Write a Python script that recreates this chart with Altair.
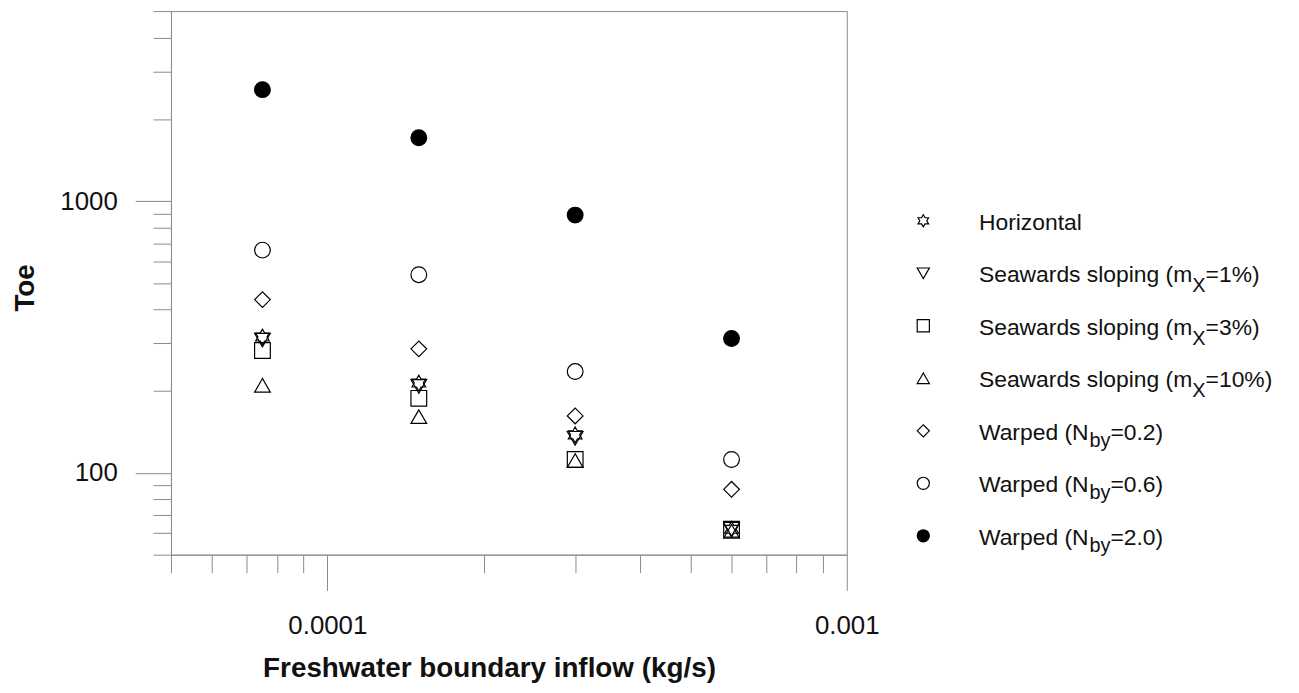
import altair as alt
import pandas as pd

FONT = "Liberation Sans"

# ---------------- data ----------------
inflow = [7.5e-5, 1.5e-4, 3.0e-4, 6.0e-4]

series = [
    "Horizontal",
    "Seawards sloping (mX=1%)",
    "Seawards sloping (mX=3%)",
    "Seawards sloping (mX=10%)",
    "Warped (Nby=0.2)",
    "Warped (Nby=0.6)",
    "Warped (Nby=2.0)",
]
label_main = ["Horizontal", "Seawards sloping (m", "Seawards sloping (m",
              "Seawards sloping (m", "Warped (N", "Warped (N", "Warped (N"]
label_sub = ["", "X", "X", "X", "by", "by", "by"]
label_end = ["", "=1%)", "=3%)", "=10%)", "=0.2)", "=0.6)", "=2.0)"]

toe_horizontal = [316, 214, 138, 62]
toe_slope1 = [308, 208, 134, 62]
toe_slope3 = [282, 188, 112, 62]
toe_slope10 = [210, 161, 111, 61]
toe_warp02 = [434, 286, 162, 87]
toe_warp06 = [660, 536, 236, 112]
toe_warp20 = [2570, 1710, 888, 312]

x_ticks = [5e-5, 6e-5, 7e-5, 8e-5, 9e-5, 1e-4, 2e-4, 3e-4, 4e-4, 5e-4,
           6e-4, 7e-4, 8e-4, 9e-4, 1e-3]
y_ticks = [50, 60, 70, 80, 90, 100, 200, 300, 400, 500, 600, 700, 800, 900,
           1000, 2000, 3000, 4000, 5000]

all_toe = [toe_horizontal, toe_slope1, toe_slope3, toe_slope10,
           toe_warp02, toe_warp06, toe_warp20]

rows = []
for s, vals in zip(series, all_toe):
    for xv, yv in zip(inflow, vals):
        rows.append({"series": s, "inflow": xv, "toe": yv})
df = pd.DataFrame(rows)

leg = pd.DataFrame({"series": series, "main": label_main,
                    "sub": label_sub, "end": label_end})

# ---------------- styling ----------------
STAR = ("M0,-1L0.289,-0.5L0.866,-0.5L0.577,0L0.866,0.5L0.289,0.5L0,1"
        "L-0.289,0.5L-0.866,0.5L-0.577,0L-0.866,-0.5L-0.289,-0.5Z")
shape_scale = alt.Scale(domain=series,
                        range=[STAR, "triangle-down", "square", "triangle-up",
                               "diamond", "circle", "circle"])
fill_scale = alt.Scale(domain=series, range=["transparent"] * 6 + ["black"])

# Arial / Liberation Sans advance widths (per 1000 em)
W = {"S": 667, "e": 556, "a": 556, "w": 722, "r": 333, "d": 556, "s": 500,
     " ": 278, "l": 222, "o": 556, "p": 556, "i": 222, "n": 556, "g": 556,
     "(": 333, "m": 833, "W": 944, "N": 722, "X": 667, "b": 556, "y": 500}


def tw(text, size):
    return sum(W.get(c, 556) for c in text) * size / 1000.0


LEG_FS = 23
SUB_FS = 20
sea_sub_dx = tw("Seawards sloping (m", LEG_FS)
sea_end_dx = sea_sub_dx + tw("X", SUB_FS)
war_sub_dx = tw("Warped (N", LEG_FS)
war_end_dx = war_sub_dx + tw("by", SUB_FS)

is_major = "abs(log(datum.value)/LN10 - round(log(datum.value)/LN10)) < 1e-6"
label_expr = is_major + " ? format(datum.value, '~g') : ''"
tick_size = {"condition": {"test": is_major, "value": 36}, "value": 18}
GRAY = "#8a8a8a"

x_axis = alt.Axis(values=x_ticks, tickSize=tick_size, labelExpr=label_expr,
                  labelFont=FONT, labelFontSize=26, labelColor="#111",
                  labelPadding=22, labelFlush=False, labelOverlap=False,
                  labelBaseline="top",
                  domainColor=GRAY, tickColor=GRAY, grid=False,
                  title="Freshwater boundary inflow (kg/s)",
                  titleFont=FONT, titleFontSize=28, titleFontWeight="bold",
                  titleColor="#111", titleX=320, titleY=123,
                  titleAlign="center", titleBaseline="alphabetic")
y_axis = alt.Axis(values=y_ticks, tickSize=tick_size, labelExpr=label_expr,
                  labelFont=FONT, labelFontSize=26, labelColor="#111",
                  labelPadding=18, labelFlush=False, labelOverlap=False,
                  labelBaseline="middle",
                  domainColor=GRAY, tickColor=GRAY, grid=False,
                  title="Toe", titleFont=FONT, titleFontSize=28,
                  titleFontWeight="bold", titleColor="#111", titleAngle=270,
                  titleX=-138, titleY=278, titleAlign="center",
                  titleBaseline="alphabetic")

points = alt.Chart(df).mark_point(size=250, stroke="black", strokeWidth=1.2,
                                  opacity=1, fillOpacity=1).encode(
    x=alt.X("inflow:Q", scale=alt.Scale(type="log", domain=[5e-5, 1e-3],
                                        nice=False), axis=x_axis),
    y=alt.Y("toe:Q", scale=alt.Scale(type="log", domain=[50, 5000],
                                     nice=False), axis=y_axis),
    shape=alt.Shape("series:N", scale=shape_scale, legend=None),
    fill=alt.Fill("series:N", scale=fill_scale, legend=None),
)

leg_y = alt.Y("series:N", scale=alt.Scale(type="point", domain=series,
                                          range=[211, 528], padding=0),
              axis=None)

leg_pts = alt.Chart(leg).mark_point(size=150, stroke="black", strokeWidth=1.2,
                                    opacity=1, fillOpacity=1).encode(
    x=alt.value(757), y=leg_y,
    shape=alt.Shape("series:N", scale=shape_scale, legend=None),
    fill=alt.Fill("series:N", scale=fill_scale, legend=None),
)

txt = dict(align="left", baseline="alphabetic", font=FONT, color="#111")
leg_main = alt.Chart(leg).mark_text(fontSize=LEG_FS, dy=9, **txt).encode(
    x=alt.value(813), y=leg_y, text="main:N")
leg_sea_sub = alt.Chart(leg).transform_filter(alt.datum.sub == "X").mark_text(
    fontSize=SUB_FS, dy=19, dx=sea_sub_dx, **txt).encode(
    x=alt.value(813), y=leg_y, text="sub:N")
leg_sea_end = alt.Chart(leg).transform_filter(alt.datum.sub == "X").mark_text(
    fontSize=LEG_FS, dy=9, dx=sea_end_dx, **txt).encode(
    x=alt.value(813), y=leg_y, text="end:N")
leg_war_sub = alt.Chart(leg).transform_filter(alt.datum.sub == "by").mark_text(
    fontSize=SUB_FS, dy=16, dx=war_sub_dx, **txt).encode(
    x=alt.value(813), y=leg_y, text="sub:N")
leg_war_end = alt.Chart(leg).transform_filter(alt.datum.sub == "by").mark_text(
    fontSize=LEG_FS, dy=9, dx=war_end_dx, **txt).encode(
    x=alt.value(813), y=leg_y, text="end:N")

legend = alt.layer(leg_pts, leg_main, leg_sea_sub, leg_sea_end,
                   leg_war_sub, leg_war_end)

chart = alt.layer(points, legend).resolve_scale(y="independent").properties(
    width=680, height=547,
    autosize=alt.AutoSizeParams(type="none"),
    padding={"left": 164, "top": 1, "right": 447, "bottom": 129},
).configure_view(stroke=GRAY, strokeWidth=1)

chart.save("out.html", embed_options={"renderer": "svg", "actions": False})
